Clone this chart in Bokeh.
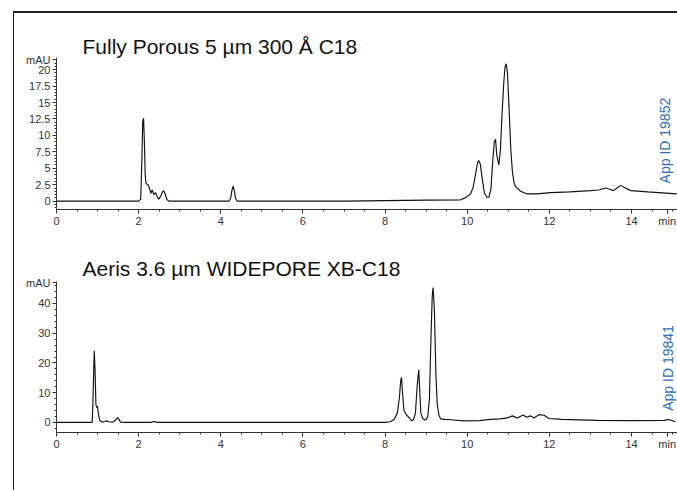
import math
from bokeh.plotting import figure
from bokeh.layouts import column, row
from bokeh.models import Label, FixedTicker, Range1d, Title, Spacer
from bokeh.embed import file_html
from bokeh.resources import INLINE

# ---- data ----
title_top = "Fully Porous 5 µm 300 Å C18"
title_bot = "Aeris 3.6 µm WIDEPORE XB-C18"
app_top = "App ID 19852"
app_bot = "App ID 19841"

x_ticks = [0, 2, 4, 6, 8, 10, 12, 14]
x_unit_pos = 14.87
x_unit = "min"
y_ticks_top = [0, 2.5, 5, 7.5, 10, 12.5, 15, 17.5, 20]
y_ticks_bot = [0, 10, 20, 30, 40]
y_unit_pos_top = 21.5
y_unit_pos_bot = 47
y_unit = "mAU"

t_top = [0.0, 1.0, 2.0, 2.05, 2.08, 2.1, 2.12, 2.14, 2.16, 2.18, 2.2, 2.23, 2.27, 2.3,
         2.33, 2.37, 2.41, 2.45, 2.49, 2.54, 2.58, 2.61, 2.64, 2.69, 2.75, 3.5, 4.2,
         4.24, 4.27, 4.3, 4.33, 4.36, 4.4, 5.0, 7.0, 9.0, 9.84, 9.95, 10.08, 10.14,
         10.2, 10.25, 10.28, 10.32, 10.37, 10.42, 10.48, 10.53, 10.58, 10.62, 10.66,
         10.69, 10.72, 10.77, 10.81, 10.85, 10.89, 10.92, 10.95, 10.98, 11.02, 11.06,
         11.1, 11.14, 11.18, 11.3, 11.46, 11.7, 12.03, 12.5, 13.0, 13.2, 13.37, 13.47,
         13.56, 13.65, 13.74, 13.85, 13.98, 14.4, 15.1]
v_top = [0, 0, 0, 0.3, 6.5, 12.2, 12.6, 9.0, 4.0, 2.7, 2.6, 2.5, 1.8, 1.2,
         1.7, 1.0, 1.3, 0.7, 0.3, 0.8, 1.4, 1.6, 1.2, 0.2, 0, 0, 0,
         0.4, 1.6, 2.3, 1.6, 0.4, 0, 0, 0, 0.15, 0.2, 0.5, 1.1, 2.0,
         4.0, 5.8, 6.2, 5.6, 3.2, 1.2, 0.6, 0.6, 2.0, 6.0, 9.0,
         9.4, 7.0, 5.5, 8.0, 13.5, 18.0, 20.4, 20.9, 19.5, 14.0, 8.0,
         4.5, 2.8, 2.2, 1.5, 1.1, 1.1, 1.3, 1.4, 1.6, 1.7, 2.0, 1.8,
         1.6, 2.0, 2.4, 2.0, 1.6, 1.4, 1.1]

t_bot = [0.0, 0.5, 0.87, 0.89, 0.91, 0.92, 0.94, 0.96, 0.98, 1.0, 1.02, 1.05, 1.11,
         1.17, 1.22, 1.28, 1.36, 1.42, 1.46, 1.49, 1.52, 1.56, 1.7, 2.3, 2.37, 2.45,
         4.0, 6.0, 8.0, 8.13, 8.22, 8.3, 8.35, 8.38, 8.4, 8.43, 8.46, 8.52, 8.58, 8.63,
         8.66, 8.7, 8.74, 8.78, 8.82, 8.85, 8.87, 8.92, 8.97, 9.0, 9.04, 9.08, 9.12,
         9.15, 9.17, 9.2, 9.24, 9.27, 9.31, 9.35, 9.45, 9.6, 9.92, 10.3, 10.57, 10.8,
         10.98, 11.1, 11.22, 11.36, 11.45, 11.54, 11.62, 11.75, 11.87, 11.99, 12.3,
         13.17, 14.0, 14.79, 14.9, 15.07]
v_bot = [0, 0, 0, 8.0, 20.0, 24.1, 17.0, 6.0, 5.0, 5.4, 3.0, 0.7, 0.1,
         0.3, 0.5, 0.2, 0.1, 0.5, 1.2, 1.6, 1.0, 0.1, 0, 0, 0.3, 0,
         0, 0, 0, 0.2, 1.0, 3.2, 8.5, 14.0, 15.1, 9.0, 4.0, 2.5, 1.7, 0.8,
         0.5, 1.2, 3.2, 12.0, 17.7, 9.0, 3.2, 1.2, 0.8, 1.0, 1.9, 8.0, 30.0,
         43.0, 45.4, 38.0, 15.0, 6.2, 2.5, 1.2, 1.0, 0.9, 0.5, 0.6, 1.0, 1.2,
         1.5, 2.2, 1.5, 2.5, 1.7, 2.2, 1.5, 2.6, 2.4, 1.3, 1.0,
         0.7, 0.6, 0.7, 1.0, 0.2]

X_END = 15.12
TICK_FONT = "Liberation Sans"
TXT = "#333333"
BLUE = "#2a6ebb"


def make_fig(t, v, y0, y1, y_ticks, y_minor_step, y_unit_pos, title, standoff,
             app, app_x, app_y, height, top, bottom):
    p = figure(width=663, height=height, output_backend="svg", toolbar_location=None,
               x_range=Range1d(0, X_END), y_range=Range1d(y0, y1),
               min_border_left=42, min_border_right=0, min_border_top=top,
               min_border_bottom=bottom)
    p.outline_line_color = None
    p.xgrid.visible = False
    p.ygrid.visible = False

    x_minor = [i * 0.5 for i in range(0, 31)]
    p.xaxis.ticker = FixedTicker(ticks=x_ticks + [x_unit_pos], minor_ticks=x_minor)
    p.xaxis.major_label_overrides = {x_unit_pos: x_unit}
    n = int(round((y1 - y0) / y_minor_step)) + 2
    start = math.floor(y0 / y_minor_step) * y_minor_step
    y_minor = [start + i * y_minor_step for i in range(n)]
    p.yaxis.ticker = FixedTicker(ticks=y_ticks + [y_unit_pos], minor_ticks=y_minor)
    p.yaxis.major_label_overrides = {y_unit_pos: y_unit}

    for ax in (p.xaxis[0], p.yaxis[0]):
        ax.axis_line_color = TXT
        ax.major_tick_line_color = TXT
        ax.minor_tick_line_color = TXT
        ax.major_tick_in = 0
        ax.major_tick_out = 4
        ax.minor_tick_in = 0
        ax.minor_tick_out = 2
        ax.major_label_text_font = TICK_FONT
        ax.major_label_text_font_size = "11px"
        ax.major_label_text_color = TXT
    p.xaxis.major_label_standoff = 1
    p.yaxis.major_label_standoff = 2

    p.line(t, v, line_color="#111111", line_width=1.15)

    p.add_layout(Title(text=title, align="left", offset=26, standoff=standoff,
                       text_font="Liberation Sans", text_font_size="21px",
                       text_font_style="normal", text_color="#111111"), "above")
    p.add_layout(Label(x=app_x, y=app_y, angle=math.pi / 2, text=app,
                       text_font="Liberation Sans", text_font_size="14px",
                       text_color=BLUE, text_align="left", text_baseline="middle"))
    return p


p1 = make_fig(t_top, v_top, -1.27, 21.85, y_ticks_top, 0.5, y_unit_pos_top, title_top, 0,
              app_top, 14.81, 2.7, 222, 44, 26)
p2 = make_fig(t_bot, v_bot, -3.4, 47.4, y_ticks_bot, 2, y_unit_pos_bot, title_bot, 4,
              app_bot, 14.9, 3.9, 255, 46, 58)

LINE = {"background-color": "#222222"}
layout = column(
    Spacer(width=677, height=11),
    row(Spacer(width=13, height=2), Spacer(width=664, height=2, styles=LINE)),
    row(Spacer(width=13, height=477), Spacer(width=1, height=477, styles=LINE),
        column(p1, p2)),
)

open("out.html", "w").write(file_html(layout, INLINE))
